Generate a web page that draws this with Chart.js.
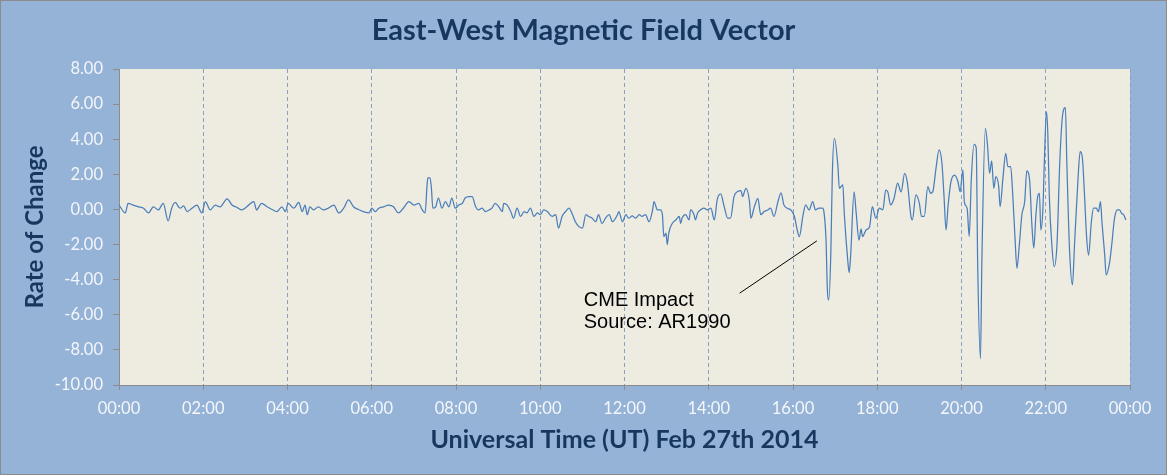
<!DOCTYPE html>
<html>
<head>
<meta charset="utf-8">
<title>East-West Magnetic Field Vector</title>
<script src="https://cdn.jsdelivr.net/npm/chart.js@4.4.1/dist/chart.umd.min.js"></script>
<style>
    html, body { margin: 0; padding: 0; background: #95B3D7; }
    #chart { display: block; }
</style>
</head>
<body>
<canvas id="chart" width="1167" height="475"></canvas>
<script>
// Minutes after 00:00 UT, Feb 27th 2014
const minutes = [
    0, 9, 13, 20, 28, 35, 42, 49, 56, 63, 70, 75, 80, 87, 92, 97, 104, 111, 118, 123,
    130, 137, 144, 154, 161, 168, 175, 182, 192, 196, 203, 211, 218, 225, 232, 237, 241, 249, 256, 261,
    265, 268, 272, 277, 284, 291, 298, 306, 313, 320, 327, 334, 341, 348, 356, 360, 365, 370, 377, 384,
    391, 398, 405, 413, 420, 427, 432, 436, 439, 440, 443, 445, 447, 451, 455, 460, 465, 470, 474, 479,
    484, 489, 493, 498, 503, 508, 512, 517, 522, 527, 531, 536, 541, 546, 548, 553, 558, 562, 567, 572,
    577, 581, 586, 591, 596, 600, 605, 610, 617, 622, 626, 631, 636, 641, 646, 650, 655, 660, 665, 669,
    674, 679, 683, 688, 693, 698, 703, 710, 712, 717, 722, 726, 731, 736, 741, 745, 750, 755, 760, 762,
    767, 771, 774, 776, 779, 781, 783, 788, 793, 798, 800, 802, 807, 812, 814, 819, 821, 824, 828, 833,
    838, 843, 848, 852, 857, 862, 867, 871, 876, 881, 886, 888, 893, 898, 900, 905, 910, 914, 919, 924,
    928, 933, 938, 943, 947, 952, 957, 962, 966, 969, 974, 978, 983, 988, 992, 997, 1002, 1004, 1007, 1009,
    1011, 1014, 1016, 1019, 1024, 1026, 1031, 1033, 1038, 1040, 1042, 1047, 1050, 1054, 1057, 1059, 1064, 1069, 1073, 1078,
    1083, 1088, 1092, 1095, 1099, 1104, 1109, 1114, 1119, 1123, 1128, 1130, 1135, 1140, 1143, 1147, 1152, 1156, 1159, 1164,
    1168, 1172, 1175, 1178, 1181, 1185, 1190, 1195, 1198, 1202, 1204, 1208, 1211, 1214, 1218, 1221, 1223, 1227, 1229, 1234,
    1237, 1240, 1243, 1246, 1249, 1253, 1255, 1259, 1263, 1266, 1270, 1273, 1276, 1279, 1282, 1286, 1290, 1293, 1297, 1300,
    1303, 1306, 1309, 1311, 1313, 1316, 1318, 1321, 1323, 1325, 1329, 1332, 1336, 1340, 1344, 1348, 1350, 1354, 1358, 1361,
    1366, 1369, 1372, 1375, 1378, 1381, 1385, 1388, 1392, 1395, 1398, 1400, 1404, 1406, 1411, 1414, 1418, 1422, 1425, 1428,
    1431, 1434
];

// Rate of change at each of those minutes
const rate = [
    0.25, -0.2, 0.35, 0.25, 0.15, 0.07, -0.2, 0.15, -0.03, 0.35, -0.65, 0.07, 0.4, 0.07, 0.2, -0.12, 0.07, 0.25, -0.2, 0.45,
    -0.03, 0.25, 0.15, 0.6, 0.25, 0.12, -0.03, 0.15, 0.45, -0.03, 0.35, 0.15, 0, -0.12, 0.15, -0.12, 0.35, 0.07, 0.4, -0.12,
    0.25, -0.3, 0.15, -0.03, 0.15, -0.03, 0.07, 0.25, -0.2, 0.07, 0.55, 0.15, 0, -0.12, -0.2, 0.07, -0.12, 0.07, 0.15, 0.25,
    0.15, -0.2, 0.07, 0.45, 0.25, 0.35, -0.03, -0.2, 1.5, 1.8, 1.8, 1.2, 0.07, 0.15, 0.65, 0.07, 0.45, 0.15, 0.65, 0.07,
    0.25, 0.35, 0.65, 0.73, 0.73, 0.15, -0.03, 0.07, -0.12, -0.03, 0.07, 0.35, 0.15, -0.12, 0.35, 0.25, -0.12, -0.5, 0.07, -0.4,
    -0.12, -0.2, 0.07, -0.4, -0.2, -0.3, -0.03, -0.12, -0.4, -0.3, -1.07, -0.4, -0.12, 0.07, -0.3, -0.7, -0.98, -1.07, -0.3, -0.4,
    -0.5, -0.7, -0.3, -0.8, -0.5, -0.3, -0.7, -0.3, -0.12, -0.7, -0.3, -0.5, -0.37, -0.5, -0.3, -0.4, -0.3, -0.7, -0.03, 0.45,
    -0.03, -0.03, -0.3, -1.55, -1.35, -2.0, -1.35, -0.8, -0.6, -0.4, -0.8, -0.5, -0.3, -0.6, -0.03, -0.3, -0.6, -0.22, -0.03, 0.07,
    -0.03, 0.07, -0.6, 0.54, 0.88, 0.16, -0.5, -0.5, 0.73, 1.02, 1.07, 0.73, 1.2, 0.45, -0.5, 0.16, 0.63, -0.3, -0.12, -0.03,
    0.07, -0.4, 0.35, 0.95, 0.26, 0.07, -0.03, -0.4, -1.17, -1.55, -0.4, 0.26, -0.03, 0.45, -0.03, 0.07, 0.07, -0.12, -1.7, -4.6,
    -5.15, -2.3, 2.0, 4.05, 2.45, 1.2, 1.4, -0.2, -2.9, -3.6, -2.7, 1.0, -0.2, -1.75, -1.1, -1.55, -1.17, -1.0, 0.16, -0.5,
    0.07, -0.03, 1.1, 1.0, 0.26, 0.64, 1.5, 1.0, 2.06, 1.5, -0.4, -0.6, 0.83, 0.35, -0.4, -0.4, 1.3, 0.92, 1.0, 2.44,
    3.39, 2.7, 0.83, -1.17, 0.26, 1.58, 1.96, 1.58, 1.0, 2.25, 0.45, 0.07, -1.55, 1.77, 3.7, 3.5, -2.97, -8.5, -2.97, 4.62,
    3.67, 2.06, 2.76, 1.2, 1.87, 1.3, 0.16, 1.77, 3.2, 2.44, 2.44, 0.83, -1.45, -3.35, -2.2, -0.3, 0.45, 2.19, 1.68, -0.7,
    -2.2, -0.3, 0.83, 0.92, -1.17, 0.07, 2.72, 5.57, 4.24, 0.83, -2.2, -3.26, -2.0, 2.72, 5.38, 5.8, 2.72, -2.4, -4.3, -2.0,
    1.77, 3.29, 3.0, 1.0, -1.45, -2.6, -0.7, 0.07, 0.07, -0.12, 0.45, -0.7, -2.6, -3.73, -3.0, -2.0, -0.5, -0.03, -0.03, -0.22,
    -0.3, -0.6
];

const hourLabels = ['00:00', '02:00', '04:00', '06:00', '08:00', '10:00', '12:00',
    '14:00', '16:00', '18:00', '20:00', '22:00', '00:00'];

// Callout text and pointer, anchored in data units (minutes, rate)
const calloutText = ['CME Impact', 'Source: AR1990'];
const calloutTextAt = [662, -5.52];
const calloutLine = [[884, -4.77], [994, -1.79]];

const labelColor = '#F4F6FA';
const titleColor = '#17375E';
const axisColor = '#8C8C8C';

const backgroundPlugin = {
    id: 'background',
    beforeDraw(chart) {
        const { ctx, chartArea: a, width, height } = chart;
        ctx.save();
        ctx.fillStyle = '#95B3D7';
        ctx.fillRect(0, 0, width, height);
        ctx.fillStyle = '#EEECE1';
        ctx.fillRect(a.left, a.top, a.right - a.left, a.bottom - a.top);
        ctx.restore();
    },
    afterDraw(chart) {
        const { ctx, width, height } = chart;
        ctx.save();
        ctx.strokeStyle = '#8C8C8C';
        ctx.lineWidth = 1;
        ctx.strokeRect(0.5, 0.5, width - 1, height - 1);
        ctx.restore();
    }
};

const calloutPlugin = {
    id: 'callout',
    afterDatasetsDraw(chart) {
        const { ctx, scales: { x, y } } = chart;
        ctx.save();
        ctx.strokeStyle = '#000';
        ctx.lineWidth = 1;
        ctx.beginPath();
        ctx.moveTo(x.getPixelForValue(calloutLine[0][0]), y.getPixelForValue(calloutLine[0][1]));
        ctx.lineTo(x.getPixelForValue(calloutLine[1][0]), y.getPixelForValue(calloutLine[1][1]));
        ctx.stroke();

        ctx.fillStyle = '#000';
        ctx.font = '20px "Liberation Sans", Arial, sans-serif';
        ctx.textBaseline = 'alphabetic';
        const tx = x.getPixelForValue(calloutTextAt[0]);
        const ty = y.getPixelForValue(calloutTextAt[1]);
        calloutText.forEach((t, i) => ctx.fillText(t, tx, ty + i * 22));
        ctx.restore();
    }
};

new Chart(document.getElementById('chart'), {
    type: 'line',
    data: {
        labels: minutes,
        datasets: [{
            data: minutes.map((m, i) => ({ x: m, y: rate[i] })),
            borderColor: '#4A7EBB',
            borderWidth: 1.25,
            pointRadius: 0,
            fill: false,
            cubicInterpolationMode: 'monotone'
        }]
    },
    options: {
        responsive: false,
        devicePixelRatio: 1,
        animation: false,
        layout: { padding: 0 },
        plugins: {
            legend: { display: false },
            tooltip: { enabled: false },
            title: {
                display: true,
                text: 'East-West Magnetic Field Vector',
                color: titleColor,
                font: { family: 'Lato', size: 29, weight: 'bold' },
                padding: { top: 13.5, bottom: 20.7 }
            }
        },
        scales: {
            x: {
                type: 'linear',
                min: 0,
                max: 1440,
                afterFit: (scale) => { scale.height = 90; },
                ticks: {
                    stepSize: 120,
                    autoSkip: false,
                    maxRotation: 0,
                    padding: 9,
                    color: labelColor,
                    font: { family: 'Lato', size: 16.5 },
                    callback: (value, index) => hourLabels[index]
                },
                grid: {
                    color: '#8B9FC0',
                    tickColor: axisColor,
                    tickBorderDash: [],
                    tickLength: 5
                },
                border: { display: true, color: axisColor, width: 1, dash: [4, 3] },
                title: {
                    display: true,
                    text: 'Universal Time (UT) Feb 27th 2014',
                    color: titleColor,
                    font: { family: 'Lato', size: 25, weight: 'bold' },
                    padding: { top: 0, bottom: 20 }
                }
            },
            y: {
                min: -10,
                max: 8,
                afterFit: (scale) => { scale.width = 119; },
                ticks: {
                    stepSize: 2,
                    padding: 10,
                    color: labelColor,
                    font: { family: 'Lato', size: 16.5 },
                    callback: (value) => value.toFixed(2)
                },
                grid: {
                    drawOnChartArea: false,
                    color: axisColor,
                    tickLength: 6
                },
                border: { display: true, color: axisColor, width: 1 },
                title: {
                    display: true,
                    text: 'Rate of Change',
                    color: titleColor,
                    font: { family: 'Lato', size: 24, weight: 'bold' },
                    padding: { top: 20.6, bottom: 0 }
                }
            },
            // empty right margin so the title stays centred on the whole picture
            yRight: {
                position: 'right',
                min: -10,
                max: 8,
                afterFit: (scale) => { scale.width = 37; },
                ticks: { display: false },
                grid: { display: false, drawTicks: false },
                border: { display: false }
            }
        }
    },
    plugins: [backgroundPlugin, calloutPlugin]
});
</script>
</body>
</html>
